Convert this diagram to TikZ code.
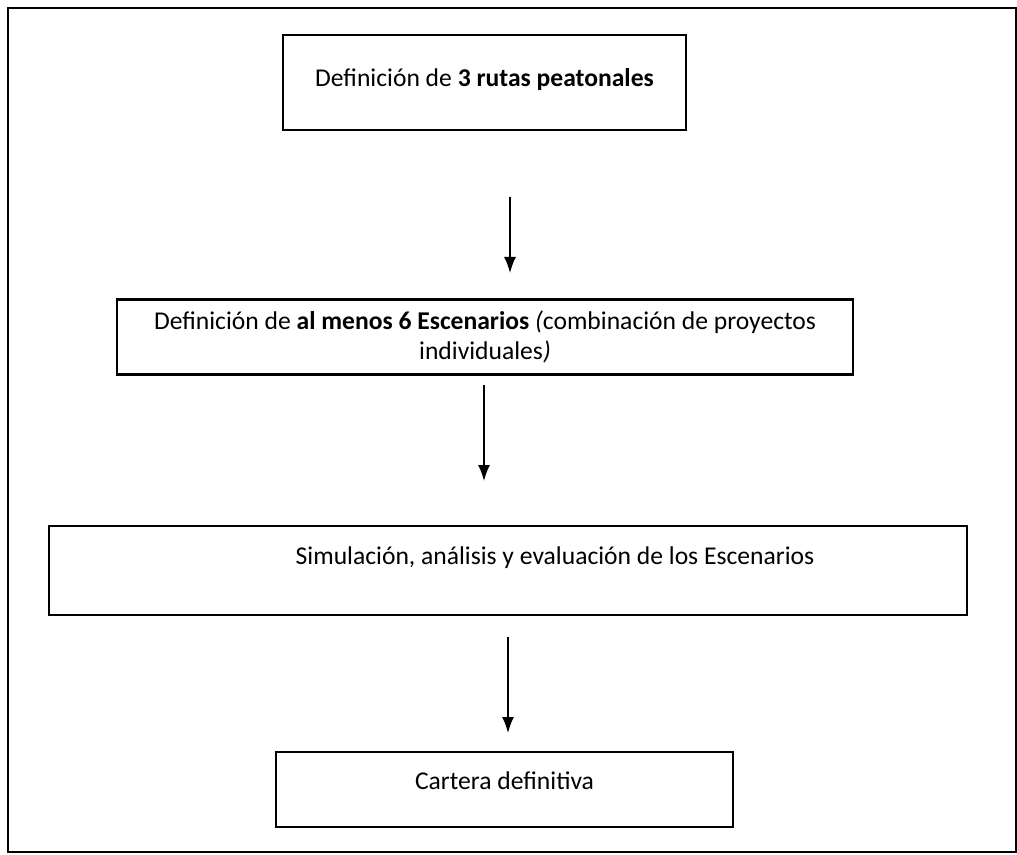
\documentclass[tikz,border=0pt]{standalone}
\usepackage{fontspec}
\setmainfont{Carlito}
\usetikzlibrary{arrows.meta}
\tikzset{stage/.style={draw, rectangle, line width=1.2pt, inner sep=0pt, align=center, font=\fontsize{12.8}{15}\selectfont}}
\tikzset{flow/.style={draw, line width=0.8pt, -{Latex[length=8pt,width=6pt]}}}

\begin{document}
\begin{tikzpicture}[x=0.5pt, y=-0.5pt]
	\useasboundingbox (0,0) rectangle (1017,855);
	\draw[line width=1.2pt] (8,8) rectangle (1016,852);
	\node[stage, minimum width=201.5pt, minimum height=47.5pt] (rutas) at (484.5,82.5) {\raisebox{5pt}{Definición de \textbf{3 rutas peatonales}}};
	\node[stage, minimum width=368pt, minimum height=37.5pt] (escenarios) at (485,337) {Definición de \textbf{al menos 6 Escenarios} \textit{(}combinación de proyectos\\ individuales\textit{)}};
	\node[stage, minimum width=459pt, minimum height=44.5pt, label={[xshift=23.5pt, yshift=6.5pt, font=\fontsize{12.8}{15}\selectfont]center:Simulación, análisis y evaluación de los Escenarios}] (simulacion) at (508,570.5) {};
	\node[stage, minimum width=228.5pt, minimum height=37.5pt] (cartera) at (504.5,789.5) {\raisebox{9pt}{Cartera definitiva}};
	\coordinate (f1a) at (510,197);
	\coordinate (f1b) at (510,273);
	\coordinate (f2a) at (484,385);
	\coordinate (f2b) at (484,481);
	\coordinate (f3a) at (508,637);
	\coordinate (f3b) at (508,733);
	\path[flow] (f1a) -- (f1b);
	\path[flow] (f2a) -- (f2b);
	\path[flow] (f3a) -- (f3b);
\end{tikzpicture}
\end{document}
